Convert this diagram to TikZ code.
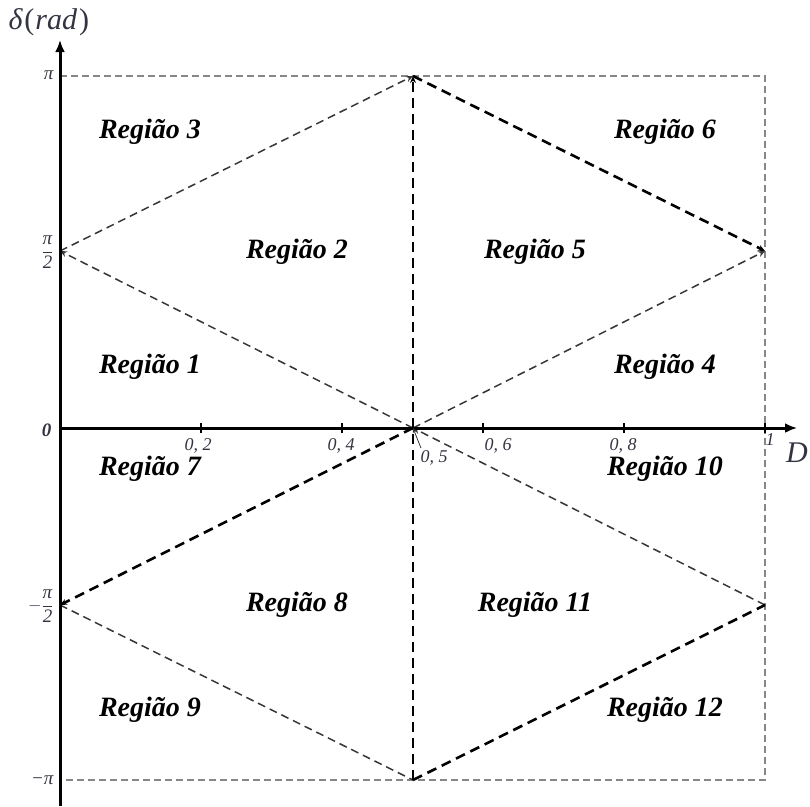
\documentclass[tikz,border=0pt]{standalone}
\usepackage{fontspec}
\setmainfont{Liberation Serif}
\usetikzlibrary{arrows.meta}
\definecolor{framegray}{RGB}{135,135,135}
\definecolor{thingray}{RGB}{55,55,55}
\definecolor{labgray}{RGB}{50,52,65}
\tikzset{
  axisline/.style={line width=3pt,-{Latex[length=12pt,width=10pt]}},
  framebox/.style={draw=framegray,line width=1.3pt,dash pattern=on 7pt off 4pt},
  thickdash/.style={draw=black,line width=2.6pt,dash pattern=on 10pt off 6pt},
  thindash/.style={draw=thingray,line width=1.5pt,dash pattern=on 8pt off 5pt},
  tiptip/.style={-{Stealth[length=7pt,width=6pt]}},
  region/.style={font=\fontsize{28}{30}\selectfont\bfseries\itshape},
  ticklab/.style={font=\fontsize{18}{20}\selectfont\itshape, text=labgray},
  ylab/.style={font=\fontsize{19}{21}\selectfont\itshape, text=labgray, anchor=east},
  tickmark/.style={line width=1.2pt}
}
\begin{document}
\begin{tikzpicture}[x=1pt,y=-1pt]
\useasboundingbox (0,0) rectangle (810,806);
% key points
\coordinate (O) at (60,428);
\coordinate (C) at (413,428);
\coordinate (T) at (413,76);
\coordinate (B) at (413,780);
\coordinate (L1) at (60,251);
\coordinate (L2) at (60,605);
\coordinate (R1) at (765,251);
\coordinate (R2) at (765,605);
\coordinate (FTL) at (60,76);
\coordinate (FTR) at (765,76);
\coordinate (FBR) at (765,780);
\coordinate (FBL) at (60,780);
\coordinate (Ybot) at (60,806);
\coordinate (Ytop) at (60,40);
\coordinate (Xend) at (797,428);
% frame
\draw[framebox] (FTL) -- (FTR) -- (FBR) -- (FBL);
% diamond lines
\draw[thindash,tiptip] (L1) -- (T);
\draw[thindash,tiptip] (C) -- (L1);
\draw[thindash,tiptip] (C) -- (R1);
\draw[thindash] (L2) -- (B);
\draw[thindash,tiptip] (R2) -- (C);
\draw[thickdash,tiptip] (T) -- (R1);
\draw[thickdash,tiptip] (B) -- (T);
\draw[thickdash,tiptip] (C) -- (L2);
\draw[thickdash] (B) -- (R2);
% axes
\draw[axisline] (Ybot) -- (Ytop);
\draw[axisline] (O) -- (Xend);
% ticks
\foreach \xx/\nm in {201/a,342/b,483/c,624/d,765/e}{
  \coordinate (tk\nm) at (\xx,428);
  \draw[tickmark] ([yshift=-5pt]tk\nm) -- ([yshift=5pt]tk\nm);
}
% tick labels
\node[ticklab] (l02) at (198,446) {0, 2};
\node[ticklab] (l04) at (341,446) {0, 4};
\node[ticklab] (l06) at (498,446) {0, 6};
\node[ticklab] (l08) at (623,446) {0, 8};
\node[ticklab] (l1) at (770,440) {1};
\node[ticklab] (l05) at (434,458) {0, 5};
\draw[thingray,line width=0.8pt,-{Stealth[length=5pt,width=4pt]}] (l05.north west) ++(4pt,-1pt) -- (C);
\node[font=\fontsize{30}{32}\selectfont\itshape, text=labgray] (Dlab) at (797,453) {D};
% y labels
\node[ylab] (ypi) at (57,75) {π};
\node[ylab] (ypi2) at (57,252) {$\displaystyle\frac{\hbox{\fontsize{19}{21}\selectfont\itshape π}}{\hbox{\fontsize{19}{21}\selectfont\itshape 2}}$};
\node[ylab] (y0) at (55,430) {\bfseries 0};
\node[ylab] (ympi2) at (57,606) {$\displaystyle -\frac{\hbox{\fontsize{19}{21}\selectfont\itshape π}}{\hbox{\fontsize{19}{21}\selectfont\itshape 2}}$};
\node[ylab] (ympi) at (57,780) {−π};
\node[font=\fontsize{30}{32}\selectfont\itshape, anchor=west, text=labgray] (dlab) at (5,22) {δ\kern2pt{\upshape(}\kern1pt rad\kern2pt{\upshape)}};
% regions
\node[region] (r3) at (150,132) {Região 3};
\node[region] (r6) at (665,132) {Região 6};
\node[region] (r2) at (297,252) {Região 2};
\node[region] (r5) at (535,252) {Região 5};
\node[region] (r1) at (150,367) {Região 1};
\node[region] (r4) at (665,367) {Região 4};
\node[region] (r7) at (150,469) {Região 7};
\node[region] (r10) at (665,469) {Região 10};
\node[region] (r8) at (297,605) {Região 8};
\node[region] (r11) at (535,605) {Região 11};
\node[region] (r9) at (150,710) {Região 9};
\node[region] (r12) at (665,710) {Região 12};
\end{tikzpicture}
\end{document}
